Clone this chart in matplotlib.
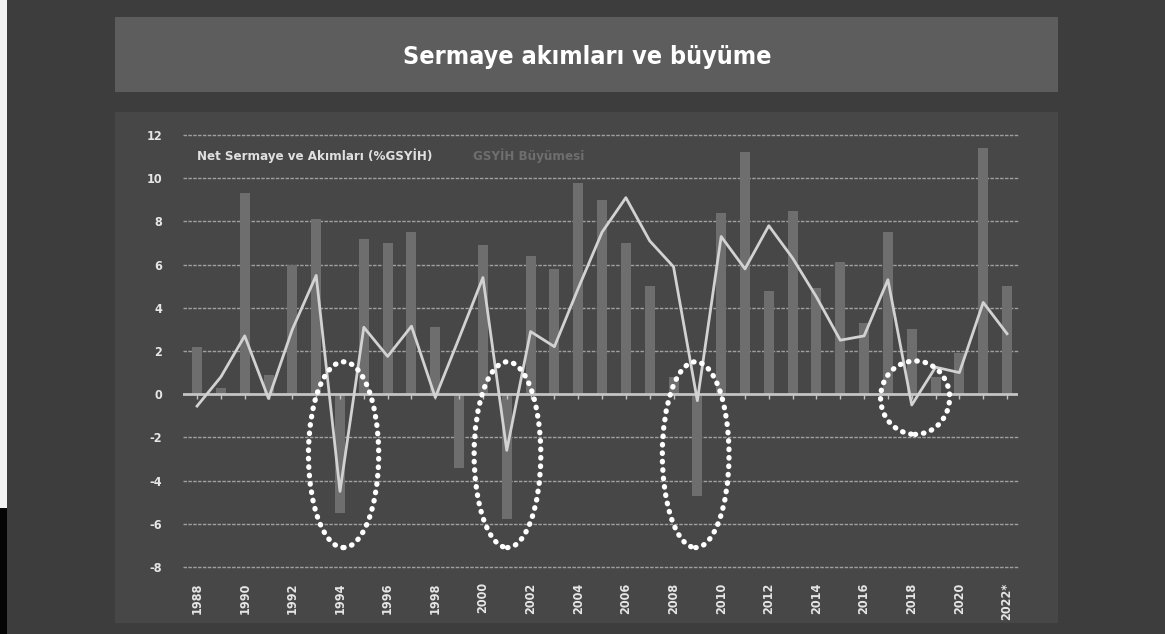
import matplotlib
matplotlib.use("Agg")
import matplotlib.pyplot as plt
from matplotlib.patches import Rectangle, Ellipse

plt.rcParams["axes.unicode_minus"] = False

# Veriler
years = list(range(1988, 2023))
tick_years = list(range(1988, 2023, 2))
tick_labels = [str(y) for y in tick_years[:-1]] + ["2022*"]

# GSYİH büyümesi (%) - sütunlar
growth = [2.2, 0.3, 9.3, 0.9, 6.0, 8.1, -5.5, 7.2, 7.0, 7.5,
          3.1, -3.4, 6.9, -5.8, 6.4, 5.8, 9.8, 9.0, 7.0, 5.0,
          0.8, -4.7, 8.4, 11.2, 4.8, 8.5, 4.9, 6.1, 3.3, 7.5,
          3.0, 0.8, 1.9, 11.4, 5.0]

# Net sermaye akımları (%GSYİH) - çizgi
capital = [-0.55, 0.8, 2.7, -0.2, 3.0, 5.5, -4.5, 3.1, 1.75, 3.15,
           -0.15, 2.6, 5.4, -2.6, 2.9, 2.2, 4.9, 7.5, 9.1, 7.1,
           5.9, -0.3, 7.3, 5.8, 7.8, 6.3, 4.5, 2.5, 2.7, 5.3,
           -0.5, 1.25, 1.0, 4.25, 2.8]

# Vurgulanan kriz yılları (merkez yıl, merkez y, genişlik, yükseklik)
highlights = [(1994.15, -2.8, 2.95, 8.6),
              (2001.03, -2.8, 2.8, 8.6),
              (2008.93, -2.8, 2.8, 8.6),
              (2018.14, -0.16, 2.9, 3.4)]

FONT = ["DejaVu Sans"]
W, H = 1165, 634

fig = plt.figure(figsize=(W / 100, H / 100), dpi=100)
fig.patch.set_facecolor("#3d3d3d")

def px_rect(x0, y0, x1, y1, color):
    fig.patches.append(Rectangle((x0 / W, 1 - y1 / H), (x1 - x0) / W, (y1 - y0) / H,
                                 transform=fig.transFigure, facecolor=color,
                                 edgecolor="none", zorder=-5))

# Arka plan kutuları
px_rect(115, 17, 1058, 92, "#5d5d5d")
px_rect(115, 112, 1058, 623, "#474747")
px_rect(0, 0, 7, 508, "#f2f2f2")
px_rect(0, 508, 7, 634, "#050505")

fig.text(587 / W, 1 - 57 / H, "Sermaye akımları ve büyüme", ha="center", va="center",
         color="white", fontsize=18, fontweight="bold", family=FONT, fontstretch="condensed")

ax = fig.add_axes([183 / W, 1 - 567 / H, (1018 - 183) / W, (567 - 135) / H])
ax.set_facecolor("none")
ax.set_zorder(2)

ax.bar(years, growth, width=0.42, color="#6e6e6e", zorder=2)
ax.plot(years, capital, color="#d2d2d2", linewidth=2, zorder=4)

# Izgara
for yv in range(-8, 13, 2):
    if yv == 0:
        continue
    ax.axhline(yv, color="#a0a0a0", linewidth=1, linestyle=(0, (2.5, 1)), zorder=1,
               clip_on=False)
ax.axhline(0, color="#c4c4c4", linewidth=2, zorder=3)
ax.vlines(years, -0.22, 0, color="#c4c4c4", linewidth=1, zorder=3)

for cx, cy, w, h in highlights:
    ax.add_patch(Ellipse((cx, cy), w, h, fill=False, edgecolor="white", linewidth=3.8,
                         linestyle=(0, (0.1, 1.5)), capstyle="round", zorder=5))

ax.set_xlim(1987.41, 2022.46)
ax.set_ylim(-8, 12)
ax.set_yticks(range(-8, 13, 2))
ax.set_xticks(tick_years)
ax.set_xticklabels(tick_labels, rotation=90)
ax.tick_params(axis="y", length=0, pad=15, labelcolor="#e6e6e6", labelsize=9)
ax.tick_params(axis="x", length=0, pad=11, labelcolor="#e6e6e6", labelsize=9)
for lbl in ax.get_xticklabels() + ax.get_yticklabels():
    lbl.set_fontweight("bold")
    lbl.set_family(FONT)
    lbl.set_fontstretch("condensed")
for s in ax.spines.values():
    s.set_visible(False)

# Lejant metinleri
ax.text(1988, 11.05, "Net Sermaye ve Akımları (%GSYİH)", color="#e0e0e0", fontsize=9.5,
        fontweight="bold", family=FONT, fontstretch="condensed", ha="left", va="center")
ax.text(1999.6, 11.05, "GSYİH Büyümesi", color="#6e6e6e", fontsize=9.5,
        fontweight="bold", family=FONT, fontstretch="condensed", ha="left", va="center")

fig.savefig("out.png", dpi=100, facecolor=fig.get_facecolor())
